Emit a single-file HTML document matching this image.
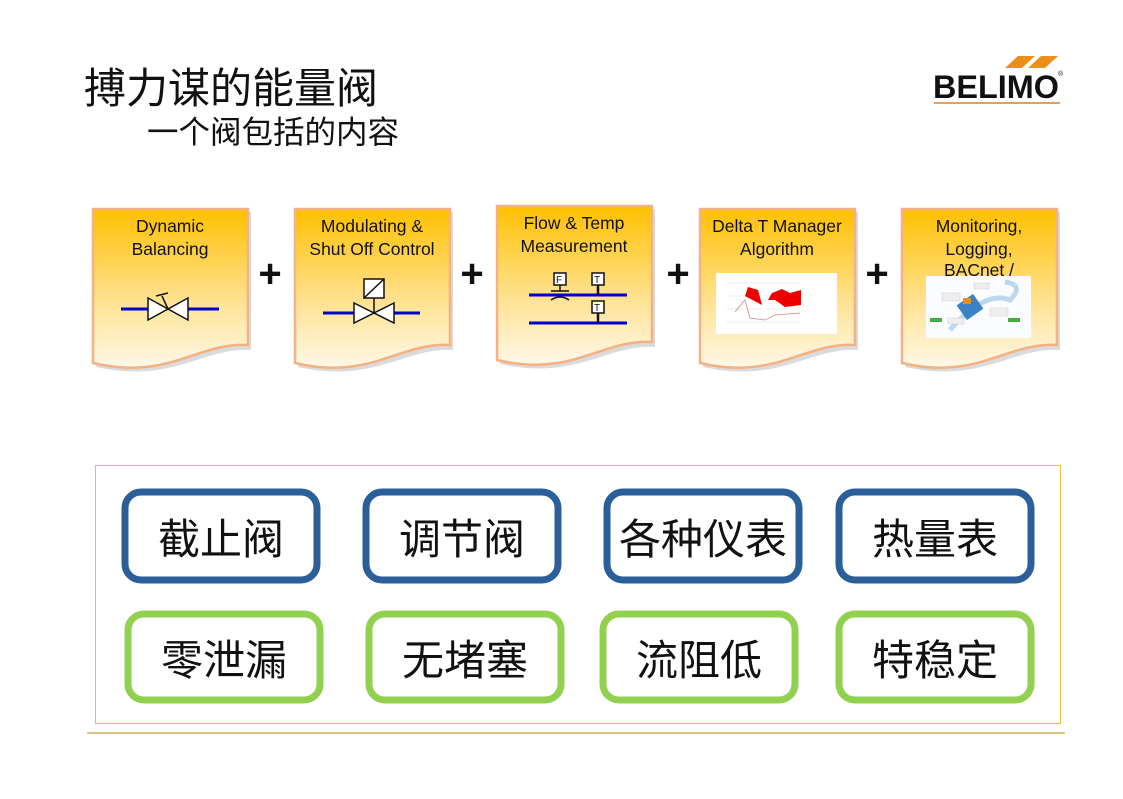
<!DOCTYPE html>
<html><head><meta charset="utf-8"><style>
html,body{margin:0;padding:0;background:#fff;}
body{width:1123px;height:794px;overflow:hidden;}
svg text{font-family:"Liberation Sans","Noto Sans CJK SC",sans-serif;}
</style></head><body>
<svg width="1123" height="794" viewBox="0 0 1123 794" xmlns="http://www.w3.org/2000/svg">
<defs>
<linearGradient id="g" x1="0" y1="0" x2="0" y2="1">
<stop offset="0" stop-color="#FFC000"/><stop offset="0.55" stop-color="#FFE08A"/><stop offset="1" stop-color="#FFF8E8"/>
</linearGradient>
<g id="card">
<path d="M3,3 H158 V141 C110,138 80,175 3,158 Z" fill="#999" opacity="0.35"/>
<path d="M0,0 H155 V136 C105,133 75,172 0,154 Z" fill="url(#g)" stroke="#F4B183" stroke-width="2.5"/>
</g>
</defs>
<text x="84" y="103" font-size="42" fill="#111">搏力谋的能量阀</text>
<text x="147" y="143" font-size="31.5" fill="#111">一个阀包括的内容</text>
<!-- logo -->
<polygon points="1018,56 1035,56 1022,68 1005,68" fill="#E8901A"/>
<polygon points="1041,56 1058,56 1045,68 1028,68" fill="#E8901A"/>
<text x="933" y="98" font-size="32" font-weight="bold" fill="#111" textLength="126" lengthAdjust="spacingAndGlyphs">BELIMO</text>
<text x="1058" y="76" font-size="7" fill="#111">®</text>
<rect x="934" y="102" width="126" height="2" fill="#E8A050"/>

<use href="#card" x="93" y="209"/>
<use href="#card" x="295" y="209"/>
<use href="#card" x="497" y="206"/>
<use href="#card" x="700" y="209"/>
<use href="#card" x="902" y="209"/>

<g font-size="17.5" fill="#111" text-anchor="middle">
<text x="170" y="232">Dynamic</text><text x="170" y="255">Balancing</text>
<text x="372" y="232">Modulating &amp;</text><text x="372" y="255">Shut Off Control</text>
<text x="574" y="229">Flow &amp; Temp</text><text x="574" y="252">Measurement</text>
<text x="777" y="232">Delta T Manager</text><text x="777" y="255">Algorithm</text>
<text x="979" y="232">Monitoring,</text><text x="979" y="255">Logging,</text><text x="979" y="276">BACnet /</text>
</g>
<g font-size="40" font-weight="bold" fill="#111" text-anchor="middle">
<text x="270" y="287">+</text><text x="472" y="287">+</text><text x="678" y="287">+</text><text x="877" y="287">+</text>
</g>
<!-- valve 1 -->
<g stroke="#111" stroke-width="1.5">
<line x1="121" y1="309" x2="148" y2="309" stroke="#0000CC" stroke-width="3"/>
<line x1="188" y1="309" x2="219" y2="309" stroke="#0000CC" stroke-width="3"/>
<polygon points="148,298 168,309 148,320" fill="#fff"/><polygon points="188,298 168,309 188,320" fill="#fff"/>
<line x1="168" y1="309" x2="162" y2="296"/><line x1="156" y1="296" x2="168" y2="293"/>
</g>
<!-- valve 2 -->
<g stroke="#111" stroke-width="1.5">
<line x1="323" y1="313" x2="354" y2="313" stroke="#0000CC" stroke-width="3"/>
<line x1="394" y1="313" x2="420" y2="313" stroke="#0000CC" stroke-width="3"/>
<polygon points="354,303 374,313 354,323" fill="#fff"/><polygon points="394,303 374,313 394,323" fill="#fff"/>
<line x1="374" y1="313" x2="374" y2="298"/>
<rect x="364" y="279" width="20" height="19" fill="#fff"/><line x1="364" y1="298" x2="384" y2="279"/>
</g>
<!-- flow -->
<g stroke="#111" stroke-width="1.5">
<line x1="529" y1="295" x2="627" y2="295" stroke="#0000CC" stroke-width="3"/>
<line x1="529" y1="323" x2="627" y2="323" stroke="#0000CC" stroke-width="3"/>
<rect x="554" y="273" width="12" height="12" fill="#fff"/><text x="556" y="283" font-size="10" stroke="none" fill="#111">F</text>
<line x1="560" y1="285" x2="560" y2="291"/><line x1="551" y1="291" x2="569" y2="291"/>
<path d="M551,300 Q560,294 569,300" fill="none"/>
<rect x="592" y="273" width="12" height="12" fill="#fff"/><text x="594" y="283" font-size="10" stroke="none" fill="#111">T</text>
<line x1="598" y1="285" x2="598" y2="295" stroke-width="2.5"/>
<rect x="592" y="301" width="12" height="12" fill="#fff"/><text x="594" y="311" font-size="10" stroke="none" fill="#111">T</text>
<line x1="598" y1="313" x2="598" y2="323" stroke-width="2.5"/>
</g>
<!-- chart -->
<rect x="716" y="273" width="121" height="61" fill="#fff"/>
<g stroke="#ddd" stroke-width="0.6"><line x1="726" y1="283" x2="800" y2="283"/><line x1="726" y1="296" x2="800" y2="296"/><line x1="726" y1="309" x2="800" y2="309"/><line x1="726" y1="322" x2="800" y2="322"/></g>
<path d="M745,296 L748,287 L758,290 L762,305 Z" fill="#E00"/>
<path d="M768,300 L772,293 L782,289 L790,293 L801,290 L801,305 L785,307 L775,300 Z" fill="#E00"/>
<path d="M735,312 L745,300 L750,318 L765,320 L775,315 L800,313" fill="none" stroke="#c88" stroke-width="0.8"/>
<!-- image -->
<rect x="926" y="276" width="105" height="62" fill="#fafcff"/>
<path d="M950,330 Q985,290 1010,300 Q1025,285 1005,282" fill="none" stroke="#bcd8ef" stroke-width="5"/>
<rect x="960" y="298" width="20" height="18" fill="#3b82c4" transform="rotate(-35 970 307)"/>
<rect x="963" y="298" width="8" height="6" fill="#E8901A"/>
<rect x="930" y="318" width="12" height="4" fill="#4a4"/><rect x="1008" y="318" width="12" height="4" fill="#4a4"/>
<g fill="#eee" stroke="#ccc" stroke-width="0.5"><rect x="942" y="293" width="18" height="8"/><rect x="974" y="283" width="15" height="6"/><rect x="990" y="308" width="18" height="8"/><rect x="948" y="318" width="16" height="6"/></g>

<!-- bottom box -->
<rect x="95.5" y="465.5" width="965" height="258" fill="#fff" stroke="#E8C040" stroke-width="1"/>
<line x1="87" y1="733" x2="1065" y2="733" stroke="#C8A040" stroke-width="1.2"/>
<g fill="#fff" stroke-width="7">
<rect x="125" y="492" width="192" height="88" rx="16" stroke="#2A5F9A"/>
<rect x="366" y="492" width="192" height="88" rx="16" stroke="#2A5F9A"/>
<rect x="607" y="492" width="192" height="88" rx="16" stroke="#2A5F9A"/>
<rect x="839" y="492" width="192" height="88" rx="16" stroke="#2A5F9A"/>
<rect x="128" y="614" width="192" height="86" rx="16" stroke="#92D050"/>
<rect x="369" y="614" width="192" height="86" rx="16" stroke="#92D050"/>
<rect x="603" y="614" width="192" height="86" rx="16" stroke="#92D050"/>
<rect x="839" y="614" width="192" height="86" rx="16" stroke="#92D050"/>
</g>
<g font-size="42" fill="#111" text-anchor="middle">
<text x="221" y="554">截止阀</text><text x="462" y="554">调节阀</text><text x="703" y="554">各种仪表</text><text x="935" y="554">热量表</text>
<text x="224" y="675">零泄漏</text><text x="465" y="675">无堵塞</text><text x="699" y="675">流阻低</text><text x="935" y="675">特稳定</text>
</g>
</svg>
</body></html>
